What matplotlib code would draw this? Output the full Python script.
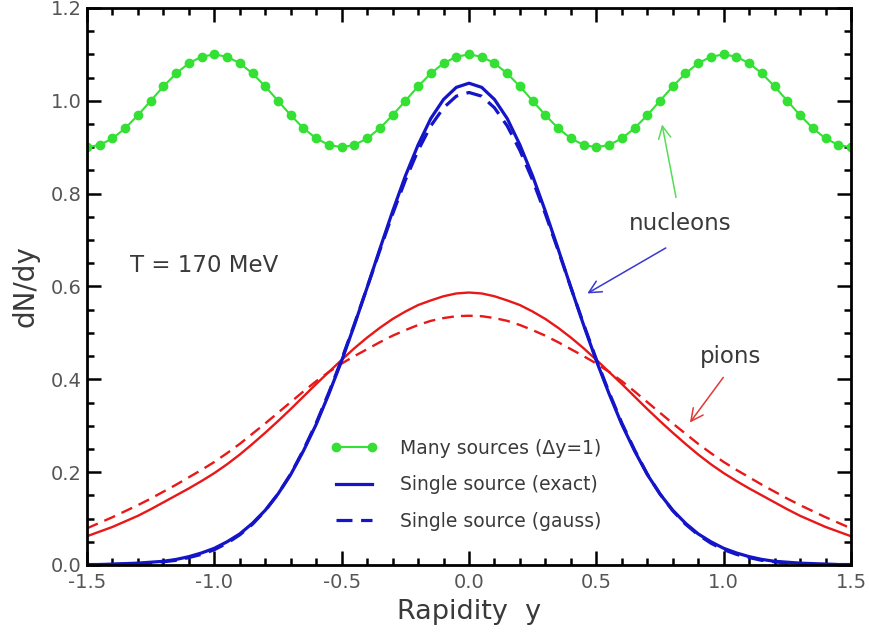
"""
dN/dy versus rapidity for thermal sources at T = 170 MeV.
Writes out.png (869 x 635).
"""

import numpy as np
import matplotlib
matplotlib.use('Agg')
import matplotlib.pyplot as plt
from matplotlib.ticker import MultipleLocator, FormatStrFormatter

# sampling grid in rapidity (step 0.05)
rapidity = np.round(np.linspace(-1.5, 1.5, 61), 2)

# nucleons, many sources (dy = 1)
many_sources = [0.900, 0.905, 0.919, 0.941, 0.969, 1.000, 1.031, 1.059, 1.081, 1.095,
                1.100, 1.095, 1.081, 1.059, 1.031, 1.000, 0.969, 0.941, 0.919, 0.905,
                0.900, 0.905, 0.919, 0.941, 0.969, 1.000, 1.031, 1.059, 1.081, 1.095,
                1.100, 1.095, 1.081, 1.059, 1.031, 1.000, 0.969, 0.941, 0.919, 0.905,
                0.900, 0.905, 0.919, 0.941, 0.969, 1.000, 1.031, 1.059, 1.081, 1.095,
                1.100, 1.095, 1.081, 1.059, 1.031, 1.000, 0.969, 0.941, 0.919, 0.905,
                0.900]

# nucleons, single source
nucleon_exact = [0.001, 0.001, 0.002, 0.003, 0.004, 0.006, 0.008, 0.012, 0.018, 0.026,
                 0.036, 0.050, 0.067, 0.090, 0.118, 0.153, 0.195, 0.246, 0.303, 0.369,
                 0.440, 0.517, 0.598, 0.681, 0.762, 0.838, 0.905, 0.962, 1.003, 1.029,
                 1.038,
                 1.029, 1.003, 0.962, 0.905, 0.838, 0.762, 0.681, 0.598, 0.517, 0.440,
                 0.369, 0.303, 0.246, 0.195, 0.153, 0.118, 0.090, 0.067, 0.050, 0.036,
                 0.026, 0.018, 0.012, 0.008, 0.006, 0.004, 0.003, 0.002, 0.001, 0.001]
nucleon_gauss = [0.000, 0.001, 0.001, 0.002, 0.003, 0.004, 0.007, 0.010, 0.016, 0.023,
                 0.033, 0.047, 0.065, 0.088, 0.117, 0.153, 0.196, 0.248, 0.306, 0.372,
                 0.443, 0.519, 0.598, 0.678, 0.756, 0.829, 0.893, 0.946, 0.985, 1.010,
                 1.018,
                 1.010, 0.985, 0.946, 0.893, 0.829, 0.756, 0.678, 0.598, 0.519, 0.443,
                 0.372, 0.306, 0.248, 0.196, 0.153, 0.117, 0.088, 0.065, 0.047, 0.033,
                 0.023, 0.016, 0.010, 0.007, 0.004, 0.003, 0.002, 0.001, 0.001, 0.000]

# pions, single source
pion_exact = [0.062, 0.072, 0.082, 0.094, 0.106, 0.120, 0.135, 0.150, 0.165, 0.181,
              0.198, 0.217, 0.238, 0.261, 0.285, 0.310, 0.336, 0.363, 0.390, 0.416,
              0.442, 0.467, 0.490, 0.511, 0.530, 0.546, 0.560, 0.570, 0.579, 0.585,
              0.587,
              0.585, 0.579, 0.570, 0.560, 0.546, 0.530, 0.511, 0.490, 0.467, 0.442,
              0.416, 0.390, 0.363, 0.336, 0.310, 0.285, 0.261, 0.238, 0.217, 0.198,
              0.181, 0.165, 0.150, 0.135, 0.120, 0.106, 0.094, 0.082, 0.072, 0.062]
pion_gauss = [0.079, 0.091, 0.103, 0.116, 0.129, 0.143, 0.158, 0.173, 0.189, 0.205,
              0.222, 0.241, 0.261, 0.283, 0.305, 0.328, 0.351, 0.374, 0.396, 0.416,
              0.434, 0.450, 0.465, 0.480, 0.494, 0.506, 0.517, 0.526, 0.532, 0.536,
              0.537,
              0.536, 0.532, 0.526, 0.517, 0.506, 0.494, 0.480, 0.465, 0.450, 0.434,
              0.416, 0.396, 0.374, 0.351, 0.328, 0.305, 0.283, 0.261, 0.241, 0.222,
              0.205, 0.189, 0.173, 0.158, 0.143, 0.129, 0.116, 0.103, 0.091, 0.079]

legend_labels = ['Many sources (\u0394y=1)', 'Single source (exact)', 'Single source (gauss)']

GREEN = '#33e033'
BLUE = '#1414c8'
RED = '#e81818'
GREY = '#3a3a3a'


def main():
    fig = plt.figure(figsize=(8.69, 6.35), dpi=100)
    ax = fig.add_axes([87/869, 70/635, 764/869, 557/635])

    # pions
    ax.plot(rapidity, pion_exact, '-', color=RED, lw=1.7)
    ax.plot(rapidity, pion_gauss, '--', color=RED, lw=1.7, dashes=(5, 3))
    # nucleons
    l_exact, = ax.plot(rapidity, nucleon_exact, '-', color=BLUE, lw=2.3)
    l_gauss, = ax.plot(rapidity, nucleon_gauss, '--', color=BLUE, lw=2.3, dashes=(5, 2.7))
    l_many, = ax.plot(rapidity, many_sources, '-o', color=GREEN, lw=1.5, ms=6, mec=GREEN)

    ax.set_xlim(-1.5, 1.5)
    ax.set_ylim(0.0, 1.2)
    ax.xaxis.set_major_locator(MultipleLocator(0.5))
    ax.xaxis.set_minor_locator(MultipleLocator(0.1))
    ax.yaxis.set_major_locator(MultipleLocator(0.2))
    ax.yaxis.set_minor_locator(MultipleLocator(0.05))
    ax.xaxis.set_major_formatter(FormatStrFormatter('%.1f'))
    ax.yaxis.set_major_formatter(FormatStrFormatter('%.1f'))
    ax.tick_params(which='both', direction='in', top=True, right=True, width=1.8,
                   labelsize=14, labelcolor='#555555')
    ax.tick_params(which='major', length=10)
    ax.tick_params(which='minor', length=5)
    ax.tick_params(axis='x', pad=6)
    ax.tick_params(axis='y', pad=4)
    for s in ax.spines.values():
        s.set_linewidth(2.0)

    ax.set_xlabel('Rapidity  y', fontsize=19.5, color=GREY)
    ax.xaxis.set_label_coords(0.5, (565 - 612) / 557)
    ax.xaxis.label.set_va('center')
    ax.set_ylabel('dN/dy', fontsize=20, color=GREY)
    ax.yaxis.set_label_coords((26 - 87) / 764, 0.5)
    ax.yaxis.label.set_va('center')

    ax.text(-1.33, 0.646, 'T = 170 MeV', fontsize=16.5, color=GREY, ha='left', va='center')

    # labels with arrows
    ax.annotate('', xy=(0.756, 0.955), xytext=(0.815, 0.786),
                arrowprops=dict(arrowstyle='->', color='#55dd55', lw=1.1, mutation_scale=22))
    ax.text(0.828, 0.735, 'nucleons', fontsize=16.5, color=GREY, ha='center', va='center')
    ax.annotate('', xy=(0.455, 0.582), xytext=(0.782, 0.686),
                arrowprops=dict(arrowstyle='->', color='#3838d0', lw=1.1, mutation_scale=22))
    ax.text(1.029, 0.45, 'pions', fontsize=16.5, color=GREY, ha='center', va='center')
    ax.annotate('', xy=(0.861, 0.302), xytext=(1.005, 0.409),
                arrowprops=dict(arrowstyle='->', color='#e03a3a', lw=1.1, mutation_scale=22))

    ax.legend([l_many, l_exact, l_gauss], legend_labels, loc='upper left',
              bbox_to_anchor=(330/869, (635 - 439)/635), bbox_transform=fig.transFigure,
              frameon=False, fontsize=13.5, handlelength=2.56, handletextpad=1.17,
              labelspacing=0.93, borderpad=0, borderaxespad=0, numpoints=2,
              labelcolor=GREY)

    fig.savefig('out.png', dpi=100)
    plt.close(fig)


if __name__ == "__main__":
    main()
